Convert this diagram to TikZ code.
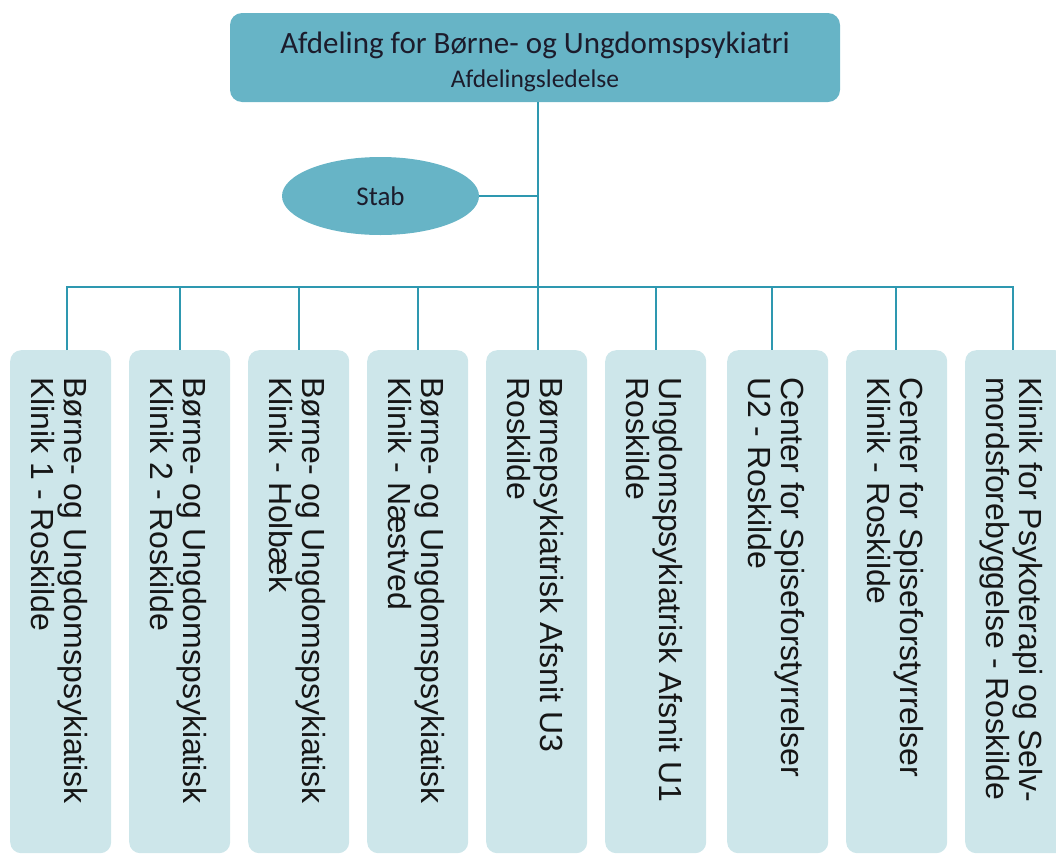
\documentclass[tikz,border=0pt]{standalone}
\usepackage{fontspec}
\setmainfont{Liberation Sans}
\newfontfamily\calib{Carlito}
\usetikzlibrary{shapes.geometric}
\definecolor{topfill}{HTML}{67B4C6}
\definecolor{leaffill}{HTML}{CDE6EA}
\definecolor{conncol}{HTML}{2E98B0}
\definecolor{toptext}{HTML}{1C1C2C}
\definecolor{leaftextcol}{HTML}{161616}
\begin{document}
\begin{tikzpicture}[x=1pt,y=-1pt,
  headbox/.style={fill=topfill, rounded corners=12pt, minimum width=610pt, minimum height=89pt, inner sep=0pt},
  headtitle/.style={anchor=base, inner sep=0pt, text=toptext, font=\calib\fontsize{31}{34}\selectfont},
  headsub/.style={anchor=base, inner sep=0pt, text=toptext, font=\calib\fontsize{25.5}{30}\selectfont},
  stabnode/.style={ellipse, fill=topfill, minimum width=197pt, minimum height=78pt, inner sep=0pt, text=toptext, font=\calib\fontsize{27}{30}\selectfont},
  leafbox/.style={fill=leaffill, rounded corners=11pt, minimum width=101pt, minimum height=503pt, inner sep=0pt, anchor=north west},
  leaftext/.style={rotate=-90, anchor=north west, inner sep=0pt, align=left, text=leaftextcol, font=\fontsize{32}{33}\selectfont},
  conn/.style={draw=conncol, line width=2pt}]
\useasboundingbox (0,0) rectangle (1056,854);
\clip (0,0) rectangle (1056,854);

% head
\node[headbox] (head) at (535,57.5) {};
\node[headtitle] (htitle) at (535,53) {Afdeling for Børne- og Ungdomspsykiatri};
\node[headsub] (hsub) at (535,87) {Afdelingsledelse};

% stab
\node[stabnode] (stab) at (380.5,196) {Stab};

% leaf boxes
\node[leafbox] (b1) at (10,350) {};
\node[leafbox] (b2) at (129,350) {};
\node[leafbox] (b3) at (248,350) {};
\node[leafbox] (b4) at (367,350) {};
\node[leafbox] (b5) at (486,350) {};
\node[leafbox] (b6) at (605,350) {};
\node[leafbox] (b7) at (727,350) {};
\node[leafbox] (b8) at (846,350) {};
\node[leafbox] (b9) at (965,350) {};

\node[leaftext] (t1) at (90,377) {\rule{0pt}{25pt}Børne- og Ungdomspsykiatisk\\Klinik 1 - Roskilde};
\node[leaftext] (t2) at (209,377) {\rule{0pt}{25pt}Børne- og Ungdomspsykiatisk\\Klinik 2 - Roskilde};
\node[leaftext] (t3) at (328,377) {\rule{0pt}{25pt}Børne- og Ungdomspsykiatisk\\Klinik - Holbæk};
\node[leaftext] (t4) at (447,377) {\rule{0pt}{25pt}Børne- og Ungdomspsykiatisk\\Klinik - Næstved};
\node[leaftext] (t5) at (566,377) {\rule{0pt}{25pt}Børnepsykiatrisk Afsnit U3\\Roskilde};
\node[leaftext] (t6) at (685,377) {\rule{0pt}{25pt}Ungdomspsykiatrisk Afsnit U1\\Roskilde};
\node[leaftext] (t7) at (807,377) {\rule{0pt}{25pt}Center for Spiseforstyrrelser\\U2 - Roskilde};
\node[leaftext] (t8) at (926,377) {\rule{0pt}{25pt}Center for Spiseforstyrrelser\\Klinik - Roskilde};
\node[leaftext] (t9) at (1045,377) {\rule{0pt}{25pt}Klinik for Psykoterapi og Selv-\\mordsforebyggelse - Roskilde};

% bus coordinates
\coordinate (trunk) at (538,287);
\coordinate (d1) at (67,287);
\coordinate (d2) at (180,287);
\coordinate (d3) at (299,287);
\coordinate (d4) at (418,287);
\coordinate (d6) at (656,287);
\coordinate (d7) at (772,287);
\coordinate (d8) at (896,287);
\coordinate (d9) at (1013,287);

% connectors
\draw[conn] (head.south -| trunk) -- (trunk) -- (trunk |- b5.north);
\draw[conn] (stab.east) -- (stab.east -| trunk);
\draw[conn] (d1 |- b1.north) -- (d1) -- (d9) -- (d9 |- b9.north);
\draw[conn] (d2) -- (d2 |- b2.north);
\draw[conn] (d3) -- (d3 |- b3.north);
\draw[conn] (d4) -- (d4 |- b4.north);
\draw[conn] (d6) -- (d6 |- b6.north);
\draw[conn] (d7) -- (d7 |- b7.north);
\draw[conn] (d8) -- (d8 |- b8.north);
\end{tikzpicture}
\end{document}
